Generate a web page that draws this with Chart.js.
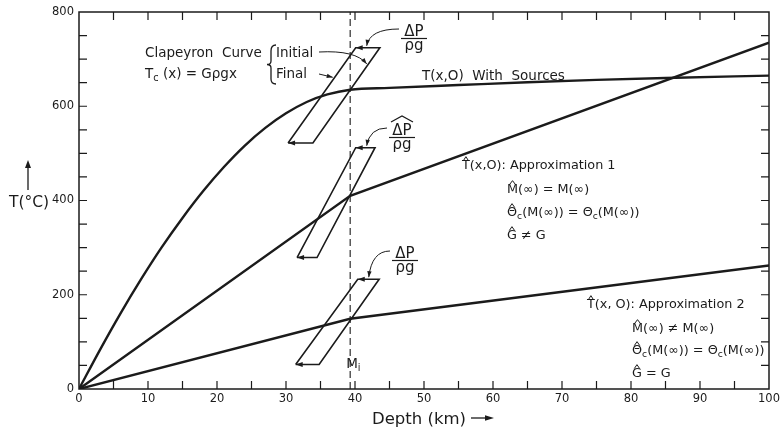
<!DOCTYPE html>
<html>
<head>
<meta charset="utf-8">
<script src="https://cdn.jsdelivr.net/npm/chart.js@4.4.1/dist/chart.umd.min.js"></script>
<style>
  body { margin: 0; background: #fff; }
  canvas { display: block; }
</style>
</head>
<body>
<canvas id="myChart" width="783" height="430"></canvas>
<script>
// T(x,0) with sources
var depthKm = [0, 3, 6, 9, 12, 15, 18, 21, 24, 27, 30, 33, 36, 39.3, 45, 55, 65, 75, 85, 100];
var tempSources = [0, 82, 160, 233, 301, 363, 420, 471, 516, 554, 585, 609, 625, 635, 639, 645, 651, 656, 660, 665];

// the two approximations are straight pieces with a break at M_i
var approxDepth = [0, 39.3, 100];
var tempApprox1 = [0, 410, 735];
var tempApprox2 = [0, 149, 262];

var miDepth = 39.3;

// clapeyron curves: lower left, lower right, upper right, upper left
var clapTopDepth = [30.3, 33.9, 43.6, 40.1];
var clapTopTemp = [522, 522, 724, 724];
var clapMidDepth = [31.6, 34.5, 42.9, 40.1];
var clapMidTemp = [279, 279, 512, 512];
var clapLowDepth = [31.4, 34.8, 43.5, 40.4];
var clapLowTemp = [52, 52, 233, 233];

var depthTicks = [0, 10, 20, 30, 40, 50, 60, 70, 80, 90, 100];
var tempTicks = [0, 200, 400, 600, 800];

var FONT = '"DejaVu Sans", sans-serif';
var INK = '#1b1b1b';

function pts(xs, ys) {
  return xs.map(function (x, i) { return { x: x, y: ys[i] }; });
}
function loop(xs, ys) {
  var p = pts(xs, ys);
  p.push(p[0]);
  return p;
}

function lineSet(data, width, extra) {
  var ds = {
    data: data,
    showLine: true,
    borderColor: INK,
    borderWidth: width,
    pointRadius: 0,
    fill: false,
    tension: 0
  };
  for (var k in extra) ds[k] = extra[k];
  return ds;
}

function arrowHead(ctx, x, y, ang, len, half) {
  ctx.beginPath();
  ctx.moveTo(x, y);
  ctx.lineTo(x - len * Math.cos(ang) + half * Math.sin(ang), y - len * Math.sin(ang) - half * Math.cos(ang));
  ctx.lineTo(x - len * Math.cos(ang) - half * Math.sin(ang), y - len * Math.sin(ang) + half * Math.cos(ang));
  ctx.closePath();
  ctx.fill();
}

function hat(ctx, cx, y, w) {
  ctx.beginPath();
  ctx.moveTo(cx - w / 2, y + 3);
  ctx.lineTo(cx, y - 1);
  ctx.lineTo(cx + w / 2, y + 3);
  ctx.stroke();
}

// parts: [text, mode]  mode '' | 'sub' | 'hat'
function rich(ctx, parts, x, y, size) {
  var cx = x;
  parts.forEach(function (p) {
    var mode = p[1] || '';
    if (mode === 'sub') {
      ctx.font = (size * 0.72) + 'px ' + FONT;
      ctx.fillText(p[0], cx, y + size * 0.22);
    } else {
      ctx.font = size + 'px ' + FONT;
      ctx.fillText(p[0], cx, y);
    }
    var w = ctx.measureText(p[0]).width;
    if (mode === 'hat') {
      ctx.lineWidth = 1;
      hat(ctx, cx + w / 2, y - size * 0.73 - 2, Math.max(5, w * 0.55));
    }
    cx += w;
  });
}

// point along an edge of a parallelogram, f from lower to upper corner
function edgePoint(xs, ys, i, j, f, sx, sy) {
  return {
    x: sx.getPixelForValue(xs[i] + (xs[j] - xs[i]) * f),
    y: sy.getPixelForValue(ys[i] + (ys[j] - ys[i]) * f)
  };
}

function fraction(ctx, cx, lineY, withHat) {
  ctx.font = '15px ' + FONT;
  ctx.textAlign = 'center';
  ctx.fillText('\u0394P', cx, lineY - 2);
  ctx.fillText('\u03c1g', cx, lineY + 12);
  ctx.textAlign = 'left';
  ctx.lineWidth = 1.2;
  ctx.beginPath();
  ctx.moveTo(cx - 13, lineY + 0.5);
  ctx.lineTo(cx + 13, lineY + 0.5);
  ctx.stroke();
  if (withHat) {
    ctx.beginPath();
    ctx.moveTo(cx - 11, lineY - 15);
    ctx.lineTo(cx, lineY - 21);
    ctx.lineTo(cx + 11, lineY - 15);
    ctx.stroke();
  }
}

var figureExtras = {
  id: 'figureExtras',
  afterDatasetsDraw: function (chart) {
    var ctx = chart.ctx;
    var a = chart.chartArea;
    var sx = chart.scales.x, sy = chart.scales.y;
    ctx.save();
    ctx.strokeStyle = INK;
    ctx.fillStyle = INK;

    // frame
    ctx.lineWidth = 1.5;
    ctx.strokeRect(a.left, a.top, a.right - a.left, a.bottom - a.top);

    // inward ticks on all four sides
    ctx.lineWidth = 1.2;
    ctx.beginPath();
    for (var d = 5; d < 100; d += 5) {
      var px = sx.getPixelForValue(d);
      ctx.moveTo(px, a.bottom); ctx.lineTo(px, a.bottom - 8);
      ctx.moveTo(px, a.top); ctx.lineTo(px, a.top + 8);
    }
    for (var t = 50; t < 800; t += 50) {
      var py = sy.getPixelForValue(t);
      ctx.moveTo(a.left, py); ctx.lineTo(a.left + 8, py);
      ctx.moveTo(a.right, py); ctx.lineTo(a.right - 8, py);
    }
    ctx.stroke();

    // left pointing heads on the horizontal edges
    [[clapTopDepth, clapTopTemp], [clapMidDepth, clapMidTemp], [clapLowDepth, clapLowTemp]].forEach(function (c) {
      arrowHead(ctx, sx.getPixelForValue(c[0][0]), sy.getPixelForValue(c[1][0]), Math.PI, 7, 2.5);
      arrowHead(ctx, sx.getPixelForValue(c[0][3]), sy.getPixelForValue(c[1][3]), Math.PI, 7, 2.5);
    });

    ctx.textBaseline = 'alphabetic';

    // left block
    rich(ctx, [['Clapeyron  Curve']], 145, 57, 13.5);
    rich(ctx, [['T'], ['c', 'sub'], [' (x) = G\u03c1gx']], 145, 78, 13.5);

    // brace
    ctx.lineWidth = 1.3;
    ctx.beginPath();
    ctx.moveTo(276, 45);
    ctx.quadraticCurveTo(271, 45, 271, 51);
    ctx.lineTo(271, 61);
    ctx.quadraticCurveTo(271, 64.5, 267, 64.5);
    ctx.quadraticCurveTo(271, 64.5, 271, 68);
    ctx.lineTo(271, 79);
    ctx.quadraticCurveTo(271, 84, 276, 84);
    ctx.stroke();
    rich(ctx, [['Initial']], 276, 57, 13.5);
    rich(ctx, [['Final']], 276, 78, 13.5);

    // initial / final pointers
    var pInit = edgePoint(clapTopDepth, clapTopTemp, 1, 2, 0.82, sx, sy);
    var pFin = edgePoint(clapTopDepth, clapTopTemp, 0, 3, 0.69, sx, sy);
    ctx.lineWidth = 1;
    ctx.beginPath();
    ctx.moveTo(319, 52);
    ctx.quadraticCurveTo(pInit.x - 12, 50, pInit.x - 1, pInit.y - 1);
    ctx.stroke();
    arrowHead(ctx, pInit.x - 1, pInit.y - 1, Math.atan2(pInit.y - 50, 13), 6, 2.2);
    ctx.beginPath();
    ctx.moveTo(319, 74);
    ctx.lineTo(pFin.x - 2, pFin.y);
    ctx.stroke();
    arrowHead(ctx, pFin.x - 2, pFin.y, Math.atan2(pFin.y - 74, pFin.x - 321), 6, 2.2);

    // delta P over rho g labels
    var tops = [
      [clapTopDepth, clapTopTemp, 414, 38, false],
      [clapMidDepth, clapMidTemp, 402, 137, true],
      [clapLowDepth, clapLowTemp, 405, 260, false]
    ];
    tops.forEach(function (o) {
      fraction(ctx, o[2], o[3], o[4]);
      var ex = sx.getPixelForValue(o[0][3]) + 11;
      var ey = sy.getPixelForValue(o[1][3]) - 2;
      var s0x = o[2] - 15, s0y = o[3] - 9;
      ctx.lineWidth = 1;
      ctx.beginPath();
      ctx.moveTo(s0x, s0y);
      ctx.quadraticCurveTo(ex + 3, s0y, ex, ey);
      ctx.stroke();
      arrowHead(ctx, ex, ey, Math.atan2(ey - s0y, -3) , 6, 2.2);
    });

    // curve labels
    rich(ctx, [['T(x,O)  With  Sources']], 422, 80, 13.5);

    rich(ctx, [['T', 'hat'], ['(x,O): Approximation 1']], 462, 169, 12.8);
    rich(ctx, [['M', 'hat'], ['(\u221e) = M(\u221e)']], 507, 193, 12.8);
    rich(ctx, [['\u0398', 'hat'], ['c', 'sub'], ['(M(\u221e)) = \u0398'], ['c', 'sub'], ['(M(\u221e))']], 507, 216, 12.8);
    rich(ctx, [['G', 'hat'], [' \u2260 G']], 507, 239, 12.8);

    rich(ctx, [['T', 'hat'], ['(x, O): Approximation 2']], 587, 308, 12.8);
    rich(ctx, [['M', 'hat'], ['(\u221e) \u2260 M(\u221e)']], 632, 332, 12.8);
    rich(ctx, [['\u0398', 'hat'], ['c', 'sub'], ['(M(\u221e)) = \u0398'], ['c', 'sub'], ['(M(\u221e))']], 632, 354, 12.8);
    rich(ctx, [['G', 'hat'], [' = G']], 632, 377, 12.8);

    // M_i
    rich(ctx, [['M'], ['i', 'sub']], sx.getPixelForValue(miDepth) - 4, 368, 13.5);

    // axis titles
    rich(ctx, [['T(\u00b0C)']], 9, 207, 15.5);
    ctx.lineWidth = 1.3;
    ctx.beginPath();
    ctx.moveTo(28, 190);
    ctx.lineTo(28, 166);
    ctx.stroke();
    arrowHead(ctx, 28, 160, -Math.PI / 2, 8, 3);

    ctx.font = '16.5px ' + FONT;
    var title = 'Depth (km)';
    var tw = ctx.measureText(title).width;
    var tx = 432 - (tw + 26) / 2;
    ctx.fillText(title, tx, 424);
    ctx.beginPath();
    ctx.moveTo(tx + tw + 5, 418);
    ctx.lineTo(tx + tw + 22, 418);
    ctx.stroke();
    arrowHead(ctx, tx + tw + 28, 418, 0, 9, 2.8);

    ctx.restore();
  }
};

new Chart('myChart', {
  type: 'scatter',
  data: {
    datasets: [
      lineSet(pts(depthKm, tempSources), 2.4, { cubicInterpolationMode: 'monotone', tension: 0.4 }),
      lineSet(pts(approxDepth, tempApprox1), 2.4),
      lineSet(pts(approxDepth, tempApprox2), 2.4),
      lineSet(pts([miDepth, miDepth], [0, 800]), 1.1, { borderDash: [7, 4] }),
      lineSet(loop(clapTopDepth, clapTopTemp), 1.6),
      lineSet(loop(clapMidDepth, clapMidTemp), 1.6),
      lineSet(loop(clapLowDepth, clapLowTemp), 1.6)
    ]
  },
  options: {
    responsive: false,
    animation: false,
    layout: { padding: { top: 12, right: 14, left: 0, bottom: 0 } },
    plugins: {
      legend: { display: false },
      tooltip: { enabled: false }
    },
    scales: {
      x: {
        type: 'linear',
        min: 0,
        max: 100,
        grid: { display: false, drawTicks: false },
        border: { display: false },
        afterBuildTicks: function (scale) {
          scale.ticks = depthTicks.map(function (v) { return { value: v }; });
        },
        afterFit: function (scale) { scale.height = 41; },
        ticks: {
          padding: 3,
          maxRotation: 0,
          autoSkip: false,
          color: INK,
          font: { family: 'DejaVu Sans', size: 11.5 }
        }
      },
      y: {
        type: 'linear',
        min: 0,
        max: 800,
        grid: { display: false, drawTicks: false },
        border: { display: false },
        afterBuildTicks: function (scale) {
          scale.ticks = tempTicks.map(function (v) { return { value: v }; });
        },
        afterFit: function (scale) { scale.width = 79; },
        ticks: {
          padding: 5,
          autoSkip: false,
          color: INK,
          font: { family: 'DejaVu Sans', size: 11.5 }
        }
      }
    }
  },
  plugins: [figureExtras]
});
</script>
</body>
</html>
